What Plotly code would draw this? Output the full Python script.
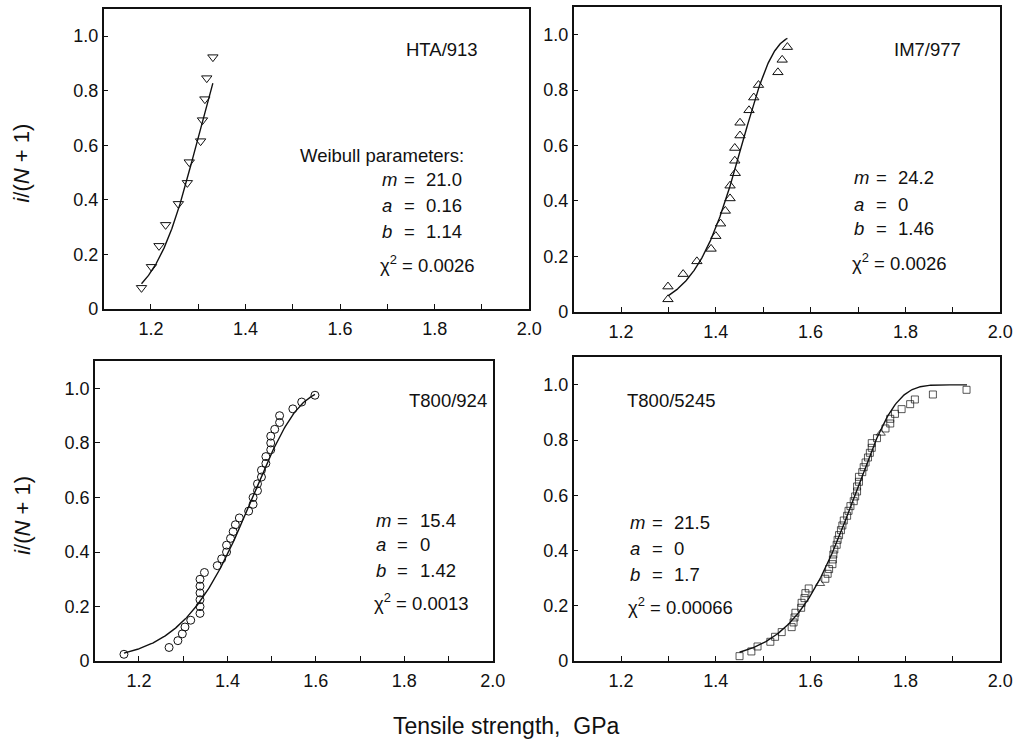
import numpy as np
import plotly.graph_objects as go

# ---- Specimen strength data: tensile strength (GPa) vs rank probability i/(N+1) ----
hta_x = [1.180, 1.201, 1.217, 1.231, 1.258, 1.277, 1.281, 1.305, 1.309, 1.314, 1.318, 1.331]
hta_y = [0.077, 0.154, 0.231, 0.308, 0.385, 0.462, 0.538, 0.615, 0.692, 0.769, 0.846, 0.923]

im7_x = [1.299, 1.299, 1.331, 1.360, 1.390, 1.400, 1.410, 1.420, 1.430, 1.430, 1.441,
         1.440, 1.440, 1.451, 1.451, 1.470, 1.480, 1.490, 1.531, 1.540, 1.551]
im7_y = [0.045, 0.091, 0.136, 0.182, 0.227, 0.273, 0.318, 0.364, 0.409, 0.455, 0.500,
         0.545, 0.591, 0.636, 0.682, 0.727, 0.773, 0.818, 0.864, 0.909, 0.955]

t924_x = [1.166, 1.268, 1.288, 1.298, 1.304, 1.317, 1.338, 1.338, 1.338, 1.338, 1.338,
          1.338, 1.348, 1.377, 1.387, 1.398, 1.398, 1.407, 1.413, 1.418, 1.427, 1.448,
          1.458, 1.458, 1.468, 1.468, 1.477, 1.477, 1.487, 1.487, 1.498, 1.498, 1.498,
          1.507, 1.518, 1.518, 1.548, 1.568, 1.598]
t924_y = [0.025, 0.050, 0.075, 0.100, 0.125, 0.150, 0.175, 0.200, 0.225, 0.250, 0.275,
          0.300, 0.325, 0.350, 0.375, 0.400, 0.425, 0.450, 0.475, 0.500, 0.525, 0.550,
          0.575, 0.600, 0.625, 0.650, 0.675, 0.700, 0.725, 0.750, 0.775, 0.800, 0.825,
          0.850, 0.875, 0.900, 0.925, 0.950, 0.975]

t5245_x = [1.450, 1.475, 1.488, 1.515, 1.525, 1.539, 1.560, 1.564, 1.566, 1.568, 1.580,
           1.581, 1.587, 1.589, 1.596, 1.620, 1.631, 1.636, 1.639, 1.646, 1.647, 1.648,
           1.650, 1.655, 1.657, 1.660, 1.664, 1.667, 1.670, 1.677, 1.680, 1.684, 1.691,
           1.694, 1.698, 1.698, 1.702, 1.702, 1.709, 1.712, 1.716, 1.721, 1.725, 1.729,
           1.729, 1.740, 1.748, 1.758, 1.768, 1.768, 1.778, 1.792, 1.810, 1.820, 1.858,
           1.929]
t5245_y = [0.018, 0.035, 0.053, 0.070, 0.088, 0.105, 0.123, 0.140, 0.158, 0.175, 0.193,
           0.211, 0.228, 0.246, 0.263, 0.281, 0.298, 0.316, 0.333, 0.351, 0.368, 0.386,
           0.404, 0.421, 0.439, 0.456, 0.474, 0.491, 0.509, 0.526, 0.544, 0.561, 0.579,
           0.596, 0.614, 0.632, 0.649, 0.667, 0.684, 0.702, 0.719, 0.737, 0.754, 0.772,
           0.789, 0.807, 0.825, 0.842, 0.860, 0.877, 0.895, 0.912, 0.930, 0.947, 0.965,
           0.982]
# two specimens of this batch are drawn with a triangle instead of a square
t5245_triangles = [15, 46]

# ---- Fitted three-parameter Weibull parameters (m, a, b) and fit quality ----
names = ["HTA/913", "IM7/977", "T800/924", "T800/5245"]
weib_m = [21.0, 24.2, 15.4, 21.5]
weib_a = [0.16, 0, 0, 0]
weib_b = [1.14, 1.46, 1.42, 1.7]
# scale at which each plotted fit line reaches 1 - 1/e
curve_b = [1.14, 1.46, 1.465, 1.7]
chi2 = ["0.0026", "0.0026", "0.0013", "0.00066"]
m_txt = ["21.0", "24.2", "15.4", "21.5"]
a_txt = ["0.16", "0", "0", "0"]
b_txt = ["1.14", "1.46", "1.42", "1.7"]
fit_range = [(1.18, 1.331), (1.30, 1.551), (1.166, 1.598), (1.45, 1.93)]

x_ticks = [1.2, 1.4, 1.6, 1.8, 2.0]
x_minor = [1.3, 1.5, 1.7, 1.9]
y_ticks = [0, 0.2, 0.4, 0.6, 0.8, 1.0]
y_ticklabels = ["0", "0.2", "0.4", "0.6", "0.8", "1.0"]

FONT = "Liberation Sans, Arial, sans-serif"
INK = "#111111"

W, H = 1028, 754
# panel frames in pixels: (left, right, top, bottom)
frames = [(105, 536, 9, 313), (581, 1013, 7, 316), (96, 499, 366, 670), (581, 1013, 362, 670)]

sym_5245 = ["triangle-up-open" if i in t5245_triangles else "square-open"
            for i in range(len(t5245_x))]
size_5245 = [8 if i in t5245_triangles else 7 for i in range(len(t5245_x))]

data_sets = [(hta_x, hta_y, "triangle-down-open", 9),
             (im7_x, im7_y, "triangle-up-open", 9),
             (t924_x, t924_y, "circle-open", 8),
             (t5245_x, t5245_y, sym_5245, size_5245)]

fig = go.Figure()

for k, (xs, ys, sym, sz) in enumerate(data_sets):
    ax = "" if k == 0 else str(k + 1)
    xa, ya = "x" + ax, "y" + ax
    # fitted Weibull distribution curve
    lo, hi = fit_range[k]
    xf = np.linspace(lo, hi, 200)
    z = np.clip((xf - weib_a[k]) / curve_b[k], 0, None)
    yf = 1 - np.exp(-z ** weib_m[k])
    fig.add_trace(go.Scatter(x=xf, y=yf, mode="lines", xaxis=xa, yaxis=ya,
                             line=dict(color=INK, width=1.4), showlegend=False,
                             hoverinfo="skip"))
    fig.add_trace(go.Scatter(x=xs, y=ys, mode="markers", xaxis=xa, yaxis=ya,
                             marker=dict(symbol=sym, size=sz, color=INK,
                                         line=dict(color=INK, width=1)),
                             showlegend=False, name=names[k]))

    l, r, t, b = frames[k]
    xdom = [l / W, r / W]
    ydom = [1 - b / H, 1 - t / H]
    common = dict(showline=True, linecolor=INK, linewidth=1.5, mirror=True,
                  ticks="inside", ticklen=5, tickwidth=1, tickcolor=INK,
                  showgrid=False, zeroline=False,
                  tickfont=dict(family=FONT, size=18, color=INK))
    fig.layout["xaxis" + ax] = dict(domain=xdom, range=[1.1, 2.0], anchor=ya,
                                    tickvals=x_ticks,
                                    ticktext=[f"{v:.1f}" for v in x_ticks],
                                    ticklabelstandoff=3,
                                    minor=dict(tickvals=x_minor, ticks="inside", ticklen=5,
                                               tickwidth=1, tickcolor=INK, showgrid=False),
                                    **common)
    fig.layout["yaxis" + ax] = dict(domain=ydom, range=[0, 1.1], anchor=xa,
                                    tickvals=y_ticks, ticktext=y_ticklabels, **common)

# ---- text annotations inside panels ----
FS = 18.5
label_pos = [(1.735, 0.95), (1.771, 0.947), (1.807, 0.957), (1.208, 0.942)]
param_pos = [(1.685, [0.473, 0.379, 0.282, 0.166]),
             (1.6875, [0.484, 0.388, 0.299, 0.181]),
             (1.731, [0.516, 0.426, 0.332, 0.217]),
             (1.215, [0.502, 0.408, 0.314, 0.199])]

anns = []
for k in range(4):
    ax = "" if k == 0 else str(k + 1)
    xr, yr = "x" + ax, "y" + ax
    base = dict(xref=xr, yref=yr, showarrow=False, yanchor="middle",
                font=dict(family=FONT, size=FS, color=INK))
    lx, ly = label_pos[k]
    anns.append(dict(x=lx, y=ly, text=names[k], xanchor="left", **base))
    px, rows = param_pos[k]
    for sym, val, yy in zip(["m", "a", "b"], [m_txt[k], a_txt[k], b_txt[k]], rows[:3]):
        anns.append(dict(x=px, y=yy, text=f"<i>{sym}</i>", xanchor="left", **base))
        anns.append(dict(x=px, y=yy, text="=", xanchor="center", xshift=29, **base))
        anns.append(dict(x=px, y=yy, text=val, xanchor="left", xshift=44, **base))
    anns.append(dict(x=px, y=rows[3], text=f"\u03c7<sup>2</sup> = {chi2[k]}",
                     xanchor="left", xshift=-2, **base))

anns.append(dict(x=1.511, y=0.563, xref="x", yref="y", text="Weibull parameters:",
                 xanchor="left", yanchor="middle", showarrow=False,
                 font=dict(family=FONT, size=FS, color=INK)))

# shared axis titles
for yc in [165, 522]:
    anns.append(dict(x=22 / W, y=1 - yc / H, xref="paper", yref="paper",
                     text="<i>i</i>/(<i>N</i> + 1)", textangle=-90, showarrow=False,
                     xanchor="center", yanchor="middle",
                     font=dict(family=FONT, size=22, color=INK)))
anns.append(dict(x=512 / W, y=1 - 736 / H, xref="paper", yref="paper",
                 text="Tensile strength,  GPa", showarrow=False,
                 xanchor="center", yanchor="middle",
                 font=dict(family=FONT, size=23, color=INK)))

fig.update_layout(width=W, height=H, margin=dict(l=0, r=0, t=0, b=0),
                  paper_bgcolor="white", plot_bgcolor="white",
                  annotations=anns, showlegend=False)

fig.write_html("out.html")
